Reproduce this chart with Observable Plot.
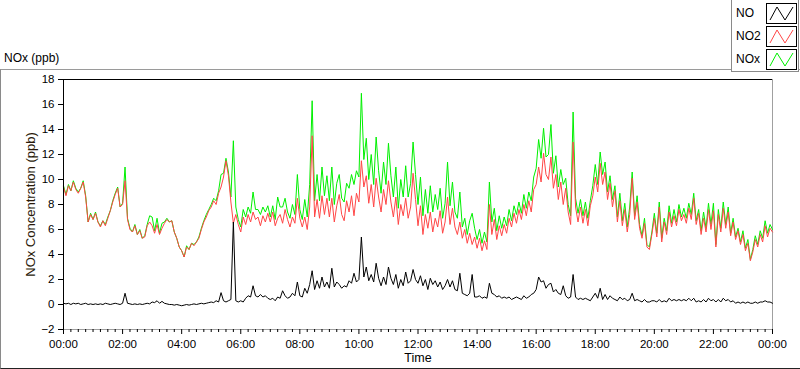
<!DOCTYPE html>
<html>
<head>
<meta charset="utf-8">
<script src="https://cdn.jsdelivr.net/npm/d3@7"></script>
<script src="https://cdn.jsdelivr.net/npm/@observablehq/plot@0.6"></script>
<style>
  body { margin: 0; background: #fff; font-family: "Liberation Sans", Arial, sans-serif; }
  #wrap { position: relative; width: 800px; height: 369px; overflow: hidden; background: #fff; }
  #outer { position: absolute; left: 0; top: 69px; width: 830px; height: 298px;
           border-top: 1px solid #9a9a9a; border-left: 1px solid #8a8a8a; border-bottom: 1px solid #222; }
  #chart { position: absolute; left: 0; top: 0; }
  #title { position: absolute; left: 4px; top: 51px; font-size: 12px; color: #000; }
  #legend { position: absolute; left: 731px; top: 0; width: 66px; height: 71px; background: #fff;
            border: 1px solid #8a8a8a; border-top: none; }
  .row { position: absolute; left: 0; width: 66px; height: 21px; }
  .row span { position: absolute; left: 4px; top: 3px; font-size: 12px; color: #000; }
  .row svg { position: absolute; left: 34px; top: 0; }
</style>
</head>
<body>
<div id="wrap">
  <div id="outer"></div>
  <div id="chart"></div>
  <div id="title">NOx (ppb)</div>
  <div id="legend"></div>
</div>
<script>
// Sampled every 5 minutes from 00:00 to 24:00 (289 values each), one row per hour
const NO2 = [
  9.4, 8.7, 9.5, 9.1, 9.8, 9.2, 8.9, 9.3, 9.8, 8.6, 6.6, 7.2,
  6.8, 7.3, 6.6, 6.2, 6.7, 6.3, 6.9, 7.5, 8.2, 8.8, 9.3, 7.8,
  8.0, 9.9, 6.8, 6.0, 5.8, 6.3, 5.6, 5.9, 5.3, 5.4, 6.3, 6.6,
  6.3, 5.7, 6.4, 5.6, 6.1, 6.5, 6.8, 6.6, 6.7, 5.8, 5.3, 4.6,
  4.3, 3.8, 4.6, 4.4, 4.9, 4.7, 5.0, 5.3, 6.0, 6.6, 7.0, 7.5,
  7.8, 8.3, 8.0, 8.9, 9.4, 10.2, 11.5, 10.3, 8.2, 6.5, 7.2, 6.4,
  5.8, 7.0, 6.4, 7.2, 6.6, 7.4, 6.8, 7.0, 6.3, 7.1, 6.6, 7.3,
  6.6, 7.4, 6.3, 6.9, 7.2, 6.5, 7.6, 6.8, 6.2, 7.0, 6.5, 8.5,
  6.9, 6.2, 7.0, 6.0, 7.8, 13.5, 7.0, 8.4, 6.9, 8.7, 7.2, 8.5,
  7.0, 8.5, 6.6, 7.9, 8.8, 7.2, 6.7, 8.3, 7.4, 8.7, 7.1, 8.9,
  8.2, 11.5, 9.4, 10.3, 8.1, 9.6, 7.8, 10.1, 8.6, 7.4, 9.2, 8.0,
  9.9, 8.2, 7.0, 8.6, 6.4, 8.0, 7.1, 8.5, 6.9, 7.8, 10.5, 8.4,
  6.3, 7.9, 5.6, 7.2, 6.1, 7.4, 5.8, 6.9, 6.2, 7.5, 5.7, 6.6,
  8.6, 6.4, 7.7, 6.2, 5.6, 6.6, 5.3, 6.0, 4.9, 5.7, 4.8, 5.4,
  4.5, 5.3, 4.3, 5.1, 4.4, 8.0, 5.6, 6.8, 5.2, 6.3, 5.5, 6.4,
  5.7, 6.9, 6.2, 7.3, 6.5, 7.6, 6.8, 8.0, 7.1, 8.3, 7.4, 9.2,
  9.6, 11.0, 9.8, 12.1, 10.4, 10.0, 11.8, 9.3, 10.4, 8.4, 9.8, 8.0,
  9.3, 7.4, 6.4, 13.0, 7.8, 6.6, 7.8, 6.5, 7.6, 6.3, 7.9, 8.7,
  10.2, 9.0, 11.3, 9.6, 10.6, 8.4, 9.7, 7.8, 9.1, 6.6, 8.3, 6.3,
  7.6, 5.8, 7.2, 10.1, 6.8, 8.2, 6.1, 5.3, 6.5, 4.6, 4.4, 5.6,
  6.9, 5.4, 7.8, 5.0, 6.6, 5.6, 7.4, 6.2, 7.1, 6.3, 7.6, 6.7,
  7.2, 6.5, 7.7, 6.8, 8.5, 6.4, 7.3, 5.6, 6.9, 5.8, 7.6, 6.0,
  7.5, 4.6, 7.2, 5.8, 7.7, 6.1, 7.4, 5.5, 6.6, 5.2, 5.9, 4.8,
  5.6, 4.3, 4.9, 3.5, 4.2, 5.2, 4.6, 5.6, 5.0, 6.3, 5.4, 6.1,
  5.8
];
const NO = [
  0.1, 0.05, 0.1, 0.0, 0.1, 0.05, 0.1, 0.0, 0.05, 0.1, 0.0, 0.05,
  0.0, 0.05, 0.0, 0.05, 0.0, 0.1, 0.05, 0.0, 0.05, 0.1, 0.05, 0.0,
  0.1, 0.9, 0.1, 0.05, 0.0, 0.05, 0.0, 0.05, 0.0, 0.05, 0.1, 0.05,
  0.2, 0.15, 0.3, 0.1, 0.25, 0.1, 0.05, 0.0, 0.0, -0.05, 0.0, -0.05,
  -0.1, -0.05, 0.0, -0.05, 0.0, 0.05, 0.0, 0.05, 0.1, 0.05, 0.1, 0.15,
  0.2, 0.15, 0.3, 0.2, 0.95, 0.3, 0.2, 0.3, 0.4, 6.6, 0.3, 0.2,
  0.3, 0.2, 0.5, 0.7, 0.6, 1.5, 0.7, 0.6, 0.8, 0.6, 0.7, 0.5,
  0.4, 0.5, 0.3, 0.6, 0.5, 1.1, 0.7, 0.5, 0.6, 0.9, 0.7, 1.8,
  0.7, 0.6, 1.3, 0.9, 1.6, 2.7, 1.2, 1.9, 1.3, 2.2, 1.4, 1.8,
  1.3, 2.9, 1.4, 1.8, 1.6, 1.3, 1.5, 1.4, 1.9, 1.7, 2.5, 1.8,
  2.0, 5.4, 2.2, 3.0, 1.9, 2.4, 1.8, 3.3, 2.1, 1.5, 2.2, 1.6,
  3.0, 2.1, 1.6, 2.4, 1.3, 2.0, 1.5, 2.6, 1.7, 1.9, 2.8, 2.0,
  1.7, 2.3, 1.5, 2.0, 1.2, 2.1, 1.6, 1.9, 1.4, 1.8, 1.2, 1.5,
  2.0, 1.4, 1.9, 1.2, 1.1, 2.5, 0.9, 0.8, 0.7, 0.9, 2.4, 0.6,
  0.6, 0.7, 0.5, 0.6, 0.5, 1.7, 0.9, 0.8, 0.6, 0.7, 0.5, 0.6,
  0.5, 0.6, 0.4, 0.5, 0.6, 0.5, 0.4, 0.7, 0.5, 0.6, 0.8, 0.9,
  1.2, 2.2, 1.8, 1.9, 1.3, 1.6, 1.7, 1.0, 1.2, 0.9, 0.8, 1.5,
  0.7, 0.5, 0.6, 2.4, 0.6, 0.4, 0.5, 0.4, 0.5, 0.4, 0.3, 0.6,
  0.9, 0.5, 1.3, 0.4, 0.8, 0.4, 0.7, 0.5, 0.4, 0.3, 0.6, 0.4,
  0.5, 0.3, 0.4, 0.9, 0.3, 0.4, 0.3, 0.2, 0.4, 0.2, 0.2, 0.3,
  0.3, 0.2, 0.4, 0.2, 0.3, 0.2, 0.5, 0.3, 0.4, 0.3, 0.4, 0.3,
  0.4, 0.3, 0.5, 0.3, 0.5, 0.2, 0.3, 0.2, 0.4, 0.2, 0.5, 0.3,
  0.4, 0.2, 0.4, 0.2, 0.5, 0.3, 0.4, 0.2, 0.3, 0.1, 0.2, 0.1,
  0.2, 0.1, 0.2, 0.1, 0.1, 0.2, 0.1, 0.2, 0.2, 0.3, 0.2, 0.2,
  0.1
];
const NOX = [
  9.5, 8.8, 9.6, 9.1, 9.9, 9.3, 9.0, 9.3, 9.9, 8.7, 6.6, 7.3,
  6.8, 7.4, 6.6, 6.3, 6.7, 6.4, 7.0, 7.5, 8.3, 8.9, 9.4, 7.8,
  8.1, 11.0, 6.9, 6.1, 5.8, 6.4, 5.6, 6.0, 5.3, 5.5, 6.4, 7.1,
  7.0, 5.9, 6.9, 5.7, 6.5, 6.6, 6.9, 6.6, 6.7, 5.8, 5.3, 4.6,
  4.3, 3.8, 4.7, 4.4, 4.9, 4.8, 5.0, 5.4, 6.1, 6.7, 7.2, 7.6,
  8.0, 8.5, 8.3, 9.1, 10.4, 10.5, 11.7, 10.6, 8.6, 13.1, 7.8, 6.8,
  6.2, 7.6, 7.0, 7.8, 7.3, 9.0, 7.6, 7.6, 7.2, 7.8, 7.4, 7.9,
  7.0, 7.9, 6.8, 8.6, 7.8, 7.8, 8.5, 7.4, 6.9, 8.0, 7.2, 10.4,
  7.6, 6.8, 8.4, 7.0, 9.6, 16.3, 8.3, 10.4, 8.3, 11.0, 8.7, 10.3,
  8.3, 11.0, 8.0, 9.7, 10.4, 8.5, 8.2, 9.7, 9.3, 10.4, 9.6, 10.7,
  10.2, 16.9, 11.6, 13.3, 10.0, 12.0, 9.6, 13.4, 10.7, 8.9, 11.4, 9.6,
  12.9, 10.3, 8.6, 11.0, 7.7, 10.0, 8.6, 11.1, 8.6, 9.7, 13.0, 10.4,
  8.0, 10.2, 7.1, 9.2, 7.3, 9.5, 7.4, 8.8, 7.6, 9.3, 6.9, 8.1,
  11.4, 7.9, 9.8, 7.4, 6.9, 9.0, 6.2, 6.9, 5.6, 6.7, 7.3, 6.1,
  5.2, 6.0, 4.9, 5.8, 5.0, 9.8, 6.6, 7.7, 5.9, 7.1, 6.1, 7.0,
  6.3, 7.6, 6.7, 7.9, 7.2, 8.2, 7.3, 8.8, 7.7, 9.0, 8.3, 10.2,
  10.9, 13.2, 11.7, 14.1, 11.8, 12.0, 14.4, 10.5, 11.9, 9.4, 10.8, 9.6,
  10.1, 8.0, 7.1, 15.4, 8.5, 7.3, 8.4, 7.1, 8.2, 6.9, 8.3, 9.5,
  11.2, 9.6, 12.2, 10.4, 11.4, 9.0, 10.3, 8.4, 9.5, 7.0, 8.9, 6.7,
  8.1, 6.2, 7.8, 10.6, 7.1, 8.7, 6.4, 5.5, 6.9, 4.8, 4.6, 5.8,
  7.3, 5.7, 8.2, 5.3, 6.9, 5.9, 7.9, 6.5, 7.6, 6.6, 8.0, 7.0,
  7.7, 6.9, 8.1, 7.2, 8.9, 6.7, 7.6, 5.9, 7.4, 6.1, 8.1, 6.4,
  8.1, 4.8, 7.6, 6.1, 8.2, 6.4, 7.8, 5.7, 6.9, 5.4, 6.1, 5.0,
  5.9, 4.5, 5.2, 3.6, 4.4, 5.5, 4.8, 5.9, 5.3, 6.7, 5.7, 6.4,
  6.0
];
const sampleMinutes = 5;
const timeLabels = ["00:00","02:00","04:00","06:00","08:00","10:00","12:00","14:00","16:00","18:00","20:00","22:00","00:00"];
const yTicks = [-2, 0, 2, 4, 6, 8, 10, 12, 14, 16, 18];
const seriesNames = ["NO", "NO2", "NOx"];
const seriesColors = ["#000000", "#ff4646", "#00f000"];

const rows = NO2.map((v, i) => ({m: i * sampleMinutes, NO: NO[i], NO2: v, NOx: NOX[i]}));
const majorTicks = timeLabels.map((_, i) => i * 120);
const minorTicks = d3.range(0, 1441, 15).filter(m => m % 120 !== 0);

const chart = Plot.plot({
  width: 800,
  height: 369,
  marginLeft: 63,
  marginRight: 28,
  marginTop: 79,
  marginBottom: 40,
  style: {background: "transparent", fontFamily: "'Liberation Sans', Arial, sans-serif", fontSize: "11px", color: "#000", overflow: "visible"},
  x: {domain: [0, 1440], label: null},
  y: {domain: [-2, 18], label: null},
  marks: [
    Plot.frame({stroke: "#a0a0a0", fill: "white"}),
    Plot.line(rows, {x: "m", y: "NOx", stroke: seriesColors[2], strokeWidth: 1}),
    Plot.line(rows, {x: "m", y: "NO2", stroke: seriesColors[1], strokeWidth: 1}),
    Plot.line(rows, {x: "m", y: "NO", stroke: seriesColors[0], strokeWidth: 1}),
    Plot.ruleY([18], {stroke: "#000"}),
    Plot.ruleX([0], {stroke: "#000"}),
    Plot.axisY(yTicks, {anchor: "left", tickSize: 5, tickPadding: 4, label: null, stroke: "#000", fontSize: 11.5}),
    Plot.axisX(minorTicks, {anchor: "bottom", tickSize: 3, tickFormat: () => "", label: null, stroke: "#000"}),
    Plot.axisX(majorTicks, {anchor: "bottom", tickSize: 5, tickPadding: 5, tickFormat: d => timeLabels[Math.round(d / 120)], label: null, stroke: "#000", fontSize: 11.5}),
    Plot.text(["Time"], {frameAnchor: "bottom", dy: 32, fontSize: 12.5, fill: "#000"}),
    Plot.text(["NOx Concentration (ppb)"], {frameAnchor: "left", dx: -33, rotate: -90, textAnchor: "middle", fontSize: 13, fill: "#2a1a0a"})
  ]
});
document.getElementById("chart").appendChild(chart);

// legend
const legend = document.getElementById("legend");
seriesNames.forEach((name, i) => {
  const row = document.createElement("div");
  row.className = "row";
  row.style.top = (3 + i * 23) + "px";
  row.innerHTML = `<span>${name}</span><svg width="31" height="21"><rect x="0.5" y="0.5" width="30" height="20" fill="white" stroke="#000"/>` +
    `<polyline points="4,17 11,4 19,17 27,4" fill="none" stroke="${seriesColors[i]}" stroke-width="1"/></svg>`;
  legend.appendChild(row);
});
</script>
</body>
</html>
